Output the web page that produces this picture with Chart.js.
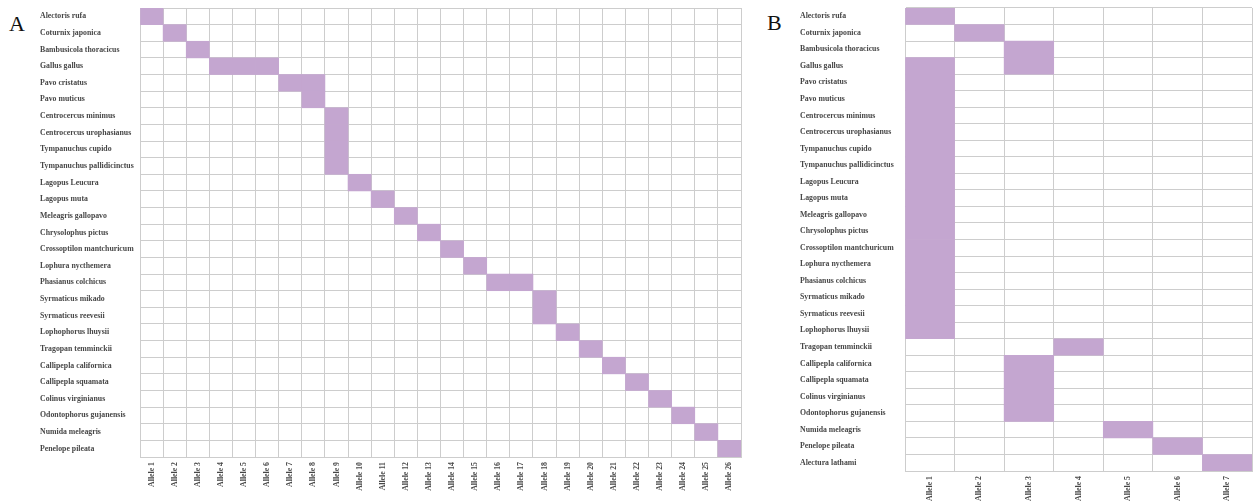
<!DOCTYPE html>
<html>
<head>
<meta charset="utf-8">
<script src="https://cdn.jsdelivr.net/npm/chart.js@4"></script>
<style>
  html, body { margin: 0; padding: 0; background: #fff; }
  body { width: 1258px; height: 501px; position: relative; overflow: hidden; }
  .panel { position: absolute; top: 0; height: 501px; }
  .tag { position: absolute; font-family: 'Liberation Serif', serif; font-size: 22px; color: #111; line-height: 1; }
</style>
</head>
<body>
<div class="tag" style="left:9px; top:13px;">A</div>
<div class="tag" style="left:767px; top:12px;">B</div>
<div class="panel" style="left:0; width:751px;"><canvas id="chartA"></canvas></div>
<div class="panel" style="left:760px; width:498px;"><canvas id="chartB"></canvas></div>
<script>
// --- data: panel A ---
const speciesA = [
  'Alectoris rufa', 'Coturnix japonica', 'Bambusicola thoracicus', 'Gallus gallus',
  'Pavo cristatus', 'Pavo muticus', 'Centrocercus minimus', 'Centrocercus urophasianus',
  'Tympanuchus cupido', 'Tympanuchus pallidicinctus', 'Lagopus Leucura', 'Lagopus muta',
  'Meleagris gallopavo', 'Chrysolophus pictus', 'Crossoptilon mantchuricum', 'Lophura nycthemera',
  'Phasianus colchicus', 'Syrmaticus mikado', 'Syrmaticus reevesii', 'Lophophorus lhuysii',
  'Tragopan temminckii', 'Callipepla californica', 'Callipepla squamata', 'Colinus virginianus',
  'Odontophorus gujanensis', 'Numida meleagris', 'Penelope pileata'
];
// allele numbers carried by each species (same order as speciesA)
const allelesA = [
  [1], [2], [3], [4, 5, 6],
  [7, 8], [8], [9], [9],
  [9], [9], [10], [11],
  [12], [13], [14], [15],
  [16, 17], [18], [18], [19],
  [20], [21], [22], [23],
  [24], [25], [26]
];
const alleleLabelsA = ['Allele 1', 'Allele 2', 'Allele 3', 'Allele 4', 'Allele 5', 'Allele 6', 'Allele 7',
  'Allele 8', 'Allele 9', 'Allele 10', 'Allele 11', 'Allele 12', 'Allele 13', 'Allele 14', 'Allele 15',
  'Allele 16', 'Allele 17', 'Allele 18', 'Allele 19', 'Allele 20', 'Allele 21', 'Allele 22', 'Allele 23',
  'Allele 24', 'Allele 25', 'Allele 26'];

// --- data: panel B ---
const speciesB = [
  'Alectoris rufa', 'Coturnix japonica', 'Bambusicola thoracicus', 'Gallus gallus',
  'Pavo cristatus', 'Pavo muticus', 'Centrocercus minimus', 'Centrocercus urophasianus',
  'Tympanuchus cupido', 'Tympanuchus pallidicinctus', 'Lagopus Leucura', 'Lagopus muta',
  'Meleagris gallopavo', 'Chrysolophus pictus', 'Crossoptilon mantchuricum', 'Lophura nycthemera',
  'Phasianus colchicus', 'Syrmaticus mikado', 'Syrmaticus reevesii', 'Lophophorus lhuysii',
  'Tragopan temminckii', 'Callipepla californica', 'Callipepla squamata', 'Colinus virginianus',
  'Odontophorus gujanensis', 'Numida meleagris', 'Penelope pileata', 'Alectura lathami'
];
const allelesB = [
  [1], [2], [3], [1, 3],
  [1], [1], [1], [1],
  [1], [1], [1], [1],
  [1], [1], [1], [1],
  [1], [1], [1], [1],
  [4], [3], [3], [3],
  [3], [5], [6], [7]
];
const alleleLabelsB = ['Allele 1', 'Allele 2', 'Allele 3', 'Allele 4', 'Allele 5', 'Allele 6', 'Allele 7'];

const FILL = '#c4a6d0';
const GRID = '#cdcdcd';
const TEXT = '#474747';
const labelFont = { family: "'Liberation Serif', 'Times New Roman', serif", size: 7.8, weight: 'bold' };

// one floating bar per filled cell: allele n spans [n-1, n] on the linear axis
function cellsFor(species, alleles) {
    const cells = [];
    species.forEach((name, i) => {
        alleles[i].forEach(n => cells.push({ x: [n - 1, n], y: name }));
    });
    return cells;
}

function makeGrid(canvasId, species, alleles, alleleLabels, opts) {
    const ctx = document.getElementById(canvasId).getContext('2d');
    return new Chart(ctx, {
        type: 'bar',
        data: {
            labels: species,
            datasets: [{
                data: cellsFor(species, alleles),
                backgroundColor: FILL,
                borderWidth: 0,
                barPercentage: 1,
                categoryPercentage: 1
            }]
        },
        options: {
            indexAxis: 'y',
            responsive: true,
            maintainAspectRatio: false,
            animation: false,
            layout: { padding: { left: 40, right: opts.padRight, top: 8, bottom: 0 } },
            plugins: { legend: { display: false }, tooltip: { enabled: false } },
            scales: {
                x: {
                    type: 'linear',
                    position: 'bottom',
                    min: 0,
                    max: alleleLabels.length,
                    ticks: { display: false, stepSize: 1 },
                    grid: { color: GRID, lineWidth: 1, drawTicks: false },
                    border: { color: GRID },
                    afterFit: (scale) => { scale.height = 0; }
                },
                xl: {
                    type: 'category',
                    position: 'bottom',
                    labels: alleleLabels,
                    offset: true,
                    grid: { display: false, drawTicks: false },
                    border: { display: false },
                    ticks: {
                        color: TEXT,
                        font: labelFont,
                        autoSkip: false,
                        minRotation: 90,
                        maxRotation: 90,
                        padding: 5
                    },
                    afterFit: (scale) => { scale.height = opts.xHeight; }
                },
                y: {
                    type: 'category',
                    offset: true,
                    grid: { color: GRID, lineWidth: 1, offset: true, drawTicks: false },
                    border: { color: GRID },
                    ticks: {
                        color: TEXT,
                        font: labelFont,
                        autoSkip: false,
                        crossAlign: 'far'
                    },
                    afterFit: (scale) => { scale.width = opts.yWidth; }
                }
            }
        }
    });
}

makeGrid('chartA', speciesA, allelesA, alleleLabelsA, { padRight: 10, xHeight: 44, yWidth: 100 });
makeGrid('chartB', speciesB, allelesB, alleleLabelsB, { padRight: 6, xHeight: 30, yWidth: 105 });
</script>
</body>
</html>
